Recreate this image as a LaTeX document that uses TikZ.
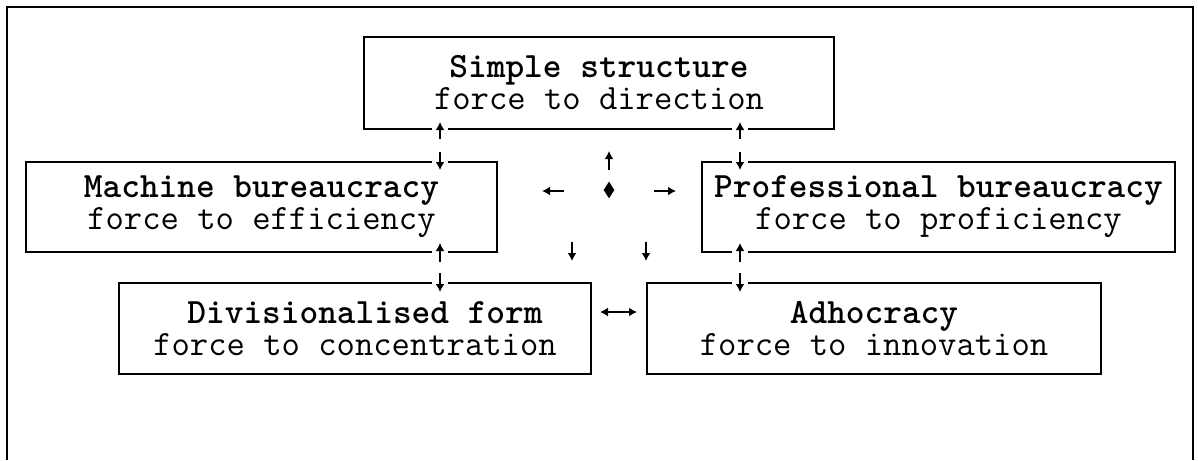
\documentclass[tikz,border=0pt]{standalone}
\usepackage{fontspec}
\usetikzlibrary{arrows.meta,shapes.geometric}
\begin{document}
\begin{tikzpicture}[x=0.5pt,y=-0.5pt,
  frame/.style={line width=1pt},
  box/.style={draw, line width=1pt, rectangle, inner sep=0pt, outer sep=0pt,
    align=center, font=\ttfamily\fontsize{17.8pt}{16pt}\selectfont},
  flow/.style={line width=0.8pt, -{Latex[length=4pt,width=4.5pt]}},
  cut/.style={preaction={draw=white, line width=8pt, arrows=-}},
  both/.style={line width=0.8pt, {Latex[length=4pt,width=4.5pt]}-{Latex[length=4pt,width=4.5pt]}}
]
\useasboundingbox (0,0) rectangle (1198,460);

% outer frame (open at the bottom)
\draw[frame] (7,460) -- (7,7) -- (1193,7) -- (1193,460);

% the five configurations
\node[box, minimum width=235pt, minimum height=46pt] (simple) at (599,83)
  {\textbf{Simple structure}\\force to direction};
\node[box, minimum width=235.5pt, minimum height=45pt] (machine) at (261.5,207)
  {\textbf{Machine bureaucracy}\hspace{9pt}\\force to efficiency\hspace{9pt}};
\node[box, minimum width=236.5pt, minimum height=45pt] (prof) at (938.5,207)
  {\textbf{Professional bureaucracy}\\force to proficiency};
\node[box, minimum width=236pt, minimum height=45.5pt] (div) at (355,328.5)
  {\hspace{10pt}\textbf{Divisionalised form}\\force to concentration};
\node[box, minimum width=227pt, minimum height=45.5pt] (adhoc) at (874,328.5)
  {\textbf{Adhocracy}\hspace{21pt}\\force to innovation};

% hub in the middle
\node[diamond, fill=black, inner sep=0pt, minimum width=5.5pt, minimum height=8.5pt] (hub) at (609,190) {};

% marks crossing the box edges
\coordinate (sm1) at (440,139); \coordinate (sm2) at (440,122);
\coordinate (ms1) at (440,152); \coordinate (ms2) at (440,170);
\coordinate (sp1) at (740,139); \coordinate (sp2) at (740,122);
\coordinate (ps1) at (740,152); \coordinate (ps2) at (740,170);
\coordinate (md1) at (440,262); \coordinate (md2) at (440,243);
\coordinate (dm1) at (440,273); \coordinate (dm2) at (440,292);
\coordinate (pa1) at (740,262); \coordinate (pa2) at (740,243);
\coordinate (ap1) at (740,273); \coordinate (ap2) at (740,292);
\foreach \a/\b in {sm1/sm2, ms1/ms2, sp1/sp2, ps1/ps2, md1/md2, dm1/dm2, pa1/pa2, ap1/ap2}
  \draw[flow, cut] (\a) -- (\b);

% arrows round the hub
\coordinate (hu1) at (609,170); \coordinate (hu2) at (609,151);
\coordinate (hl1) at (564,191); \coordinate (hl2) at (542,191);
\coordinate (hr1) at (654,191); \coordinate (hr2) at (676,191);
\coordinate (hd1) at (572,242); \coordinate (hd2) at (572,261);
\coordinate (he1) at (646,242); \coordinate (he2) at (646,261);
\foreach \a/\b in {hu1/hu2, hl1/hl2, hr1/hr2, hd1/hd2, he1/he2}
  \draw[flow] (\a) -- (\b);

% link between the two lower boxes
\coordinate (da1) at (600,312); \coordinate (da2) at (637,312);
\draw[both] (da1) -- (da2);
\end{tikzpicture}
\end{document}
